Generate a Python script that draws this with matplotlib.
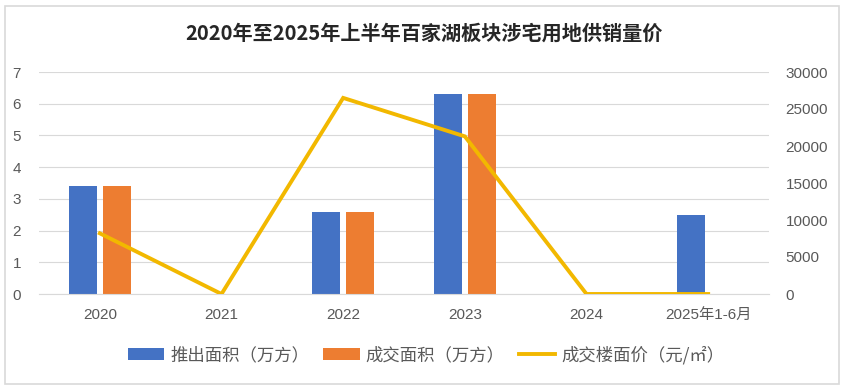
import matplotlib.pyplot as plt
import numpy as np
from matplotlib.patches import Rectangle

plt.rcParams['font.family'] = ['Noto Sans CJK SC', 'DejaVu Sans']

# data
years = ['2020', '2021', '2022', '2023', '2024', '2025年1-6月']
supply = [3.4, 0, 2.6, 6.3, 0, 2.5]      # 推出面积（万方）
deal = [3.4, 0, 2.6, 6.3, 0, 0]          # 成交面积（万方）
price = [8200, 0, 26500, 21300, 0, 0]    # 成交楼面价（元/㎡）

blue = '#4472C4'
orange = '#ED7D31'
gold = '#F2B800'
grey_txt = '#595959'
tick_font = ['Liberation Sans', 'Noto Sans CJK SC']

fig = plt.figure(figsize=(8.57, 3.92), dpi=100)

# outer frame
fig.patches.append(Rectangle((5/857, 1-384/392), 834/857, 378/392,
                             transform=fig.transFigure, fill=False,
                             edgecolor='#D9D9D9', linewidth=1.2))

ax = fig.add_axes([39/857, 1-294/392, 730/857, 222/392])
ax2 = ax.twinx()

x = np.arange(len(years))
w = 0.23
gap = 0.05
ax.bar(x - (w+gap)/2, [v if v else np.nan for v in supply], w, color=blue, label='推出面积（万方）', zorder=2)
ax.bar(x + (w+gap)/2, [v if v else np.nan for v in deal], w, color=orange, label='成交面积（万方）', zorder=2)
ax2.plot(x, price, color=gold, linewidth=2.8, label='成交楼面价（元/㎡）', solid_joinstyle='miter')

ax.set_xlim(-0.5, len(years)-0.5)
ax.set_ylim(0, 7)
ax2.set_ylim(0, 30000)
ax.set_yticks(range(0, 8))
ax2.set_yticks(range(0, 30001, 5000))
ax.set_xticks(x)
ax.set_xticklabels(years)

ax.grid(axis='y', color='#D9D9D9', linewidth=0.8, zorder=0)
ax.set_axisbelow(True)
for a in (ax, ax2):
    for s in a.spines.values():
        s.set_visible(False)
    a.tick_params(length=0, labelsize=11, colors=grey_txt)
    for t in a.get_xticklabels() + a.get_yticklabels():
        t.set_family(tick_font)
ax.spines['bottom'].set_visible(True)
ax.spines['bottom'].set_color('#D9D9D9')
ax.tick_params(axis='x', pad=10)
ax.tick_params(axis='y', pad=13)
ax2.tick_params(axis='y', pad=12)

fig.text(0.495, 1-33/392, '2020年至2025年上半年百家湖板块涉宅用地供销量价',
         ha='center', va='center', fontsize=14.5, fontweight='bold', color='#262626')

h1, l1 = ax.get_legend_handles_labels()
h2, l2 = ax2.get_legend_handles_labels()
fig.legend(h1 + h2, l1 + l2, loc='center', bbox_to_anchor=(0.497, 1-355/392),
           ncol=3, frameon=False, fontsize=12.5, labelcolor=grey_txt,
           handlelength=2.1, handleheight=0.7, columnspacing=0.8, handletextpad=0.35)

fig.savefig('out.png', dpi=100)
